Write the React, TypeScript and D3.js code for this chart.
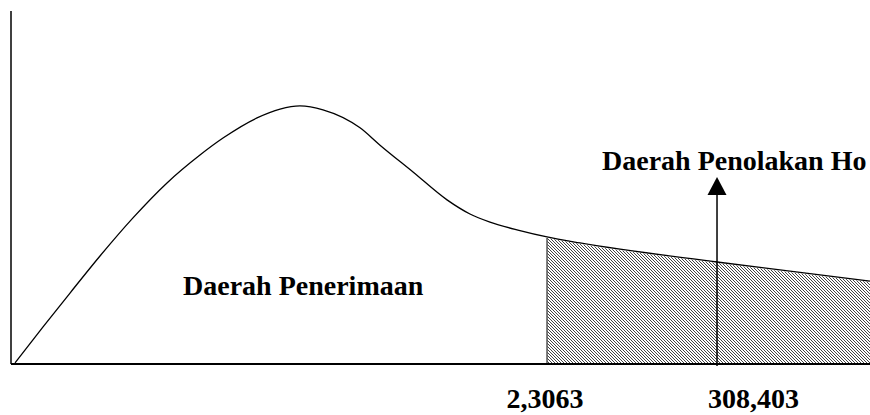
import React, { useEffect, useRef } from "react";
import * as d3 from "d3";

// curve (x in 0..100 of axis length, y as share of axis height)
const curveX = [0.47, 3.73, 6.87, 10.36, 14.2, 18.16, 22.0, 24.68, 28.64, 31.32, 33.64, 36.32, 40.63, 42.96, 46.8, 50.76, 53.43, 55.76, 59.25, 62.4, 66.24, 82.19, 100];
const curveY = [0.003, 0.105, 0.201, 0.306, 0.414, 0.513, 0.592, 0.64, 0.697, 0.722, 0.731, 0.72, 0.669, 0.62, 0.544, 0.465, 0.425, 0.402, 0.378, 0.36, 0.343, 0.289, 0.235];

const criticalX = 62.4;
const statX = 82.19;
const criticalLabel = "2,3063";
const statLabel = "308,403";
const acceptLabel = "Daerah Penerimaan";
const rejectLabel = "Daerah Penolakan Ho";

const W = 870;
const H = 415;
const margin = { left: 11, right: 0, top: 11, bottom: 51 };

const App: React.FC = () => {
  const ref = useRef<SVGSVGElement | null>(null);

  useEffect(() => {
    const svg = d3.select(ref.current);
    svg.selectAll("*").remove();

    const x = d3.scaleLinear().domain([0, 100]).range([margin.left, W - margin.right]);
    const y = d3.scaleLinear().domain([0, 1]).range([H - margin.bottom, margin.top]);

    const pts = curveX.map((v, i) => ({ x: v, y: curveY[i] }));

    const defs = svg.append("defs");
    const pat = defs
      .append("pattern")
      .attr("id", "hatch")
      .attr("patternUnits", "userSpaceOnUse")
      .attr("width", 3)
      .attr("height", 3);
    pat.append("rect").attr("width", 3).attr("height", 3).attr("fill", "#fff");
    pat
      .append("path")
      .attr("d", "M0,0L3,3M-1,2L1,4M2,-1L4,1")
      .attr("stroke", "#444")
      .attr("stroke-width", 1);

    const shaded = pts.filter((p) => p.x >= criticalX);
    const area = d3
      .area<{ x: number; y: number }>()
      .x((d) => x(d.x))
      .y0(y(0))
      .y1((d) => y(d.y) + 1)
      .curve(d3.curveMonotoneX);

    svg.append("path").datum(shaded).attr("d", area).attr("fill", "url(#hatch)");

    svg
      .append("line")
      .attr("x1", x(criticalX))
      .attr("x2", x(criticalX))
      .attr("y1", y(0))
      .attr("y2", y(shaded[0].y) + 1)
      .attr("stroke", "#555")
      .attr("stroke-width", 1.5);

    const line = d3
      .line<{ x: number; y: number }>()
      .x((d) => x(d.x))
      .y((d) => y(d.y))
      .curve(d3.curveMonotoneX);

    svg
      .append("path")
      .datum(pts)
      .attr("d", line)
      .attr("fill", "none")
      .attr("stroke", "#000")
      .attr("stroke-width", 1.3);

    // axes
    svg
      .append("line")
      .attr("x1", x(0))
      .attr("x2", x(100))
      .attr("y1", y(0))
      .attr("y2", y(0))
      .attr("stroke", "#000")
      .attr("stroke-width", 2);
    svg
      .append("line")
      .attr("x1", x(0))
      .attr("x2", x(0))
      .attr("y1", y(0))
      .attr("y2", y(1))
      .attr("stroke", "#000")
      .attr("stroke-width", 1.5);

    // arrow
    const ax = x(statX);
    svg
      .append("line")
      .attr("x1", ax)
      .attr("x2", ax)
      .attr("y1", y(0) + 2)
      .attr("y2", 190)
      .attr("stroke", "#000")
      .attr("stroke-width", 1.5);
    svg
      .append("path")
      .attr("d", `M${ax},177L${ax - 9.5},195L${ax + 9.5},195Z`)
      .attr("fill", "#000");

    const txt = (s: string, tx: number, ty: number, anchor = "start") =>
      svg
        .append("text")
        .attr("x", tx)
        .attr("y", ty)
        .attr("text-anchor", anchor)
        .style("font-family", '"Liberation Serif", Tinos, "Times New Roman", serif')
        .style("font-weight", "700")
        .style("font-size", "28px")
        .attr("fill", "#000")
        .text(s);

    txt(acceptLabel, 183, 295);
    txt(rejectLabel, 602, 170);
    txt(criticalLabel, x(criticalX) - 2, 408, "middle");
    txt(statLabel, ax - 9, 408);
  }, []);

  return (
    <svg
      ref={ref}
      width={W}
      height={H}
      style={{ position: "absolute", left: 0, top: 0, background: "#fff" }}
    />
  );
};

export default App;
